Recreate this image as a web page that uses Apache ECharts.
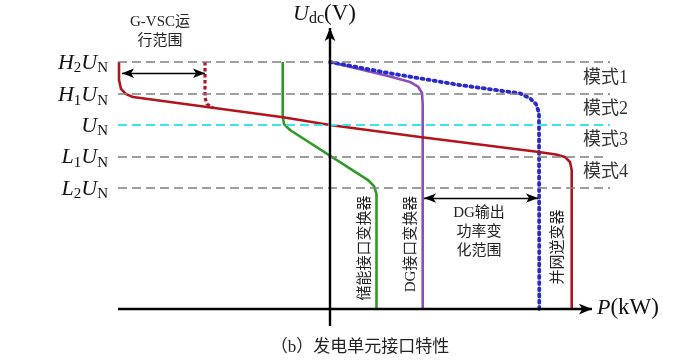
<!DOCTYPE html>
<html><head><meta charset="utf-8">
<script src="https://cdn.jsdelivr.net/npm/echarts@6/dist/echarts.min.js"></script>
<style>html,body{margin:0;padding:0;background:#fff}#c{width:693px;height:361px}</style>
</head><body><div id="c"></div>
<script>
// ---- data (P in schematic units, U normalised to UN = 1) ----
const levelNames = ['H2UN', 'H1UN', 'UN', 'L1UN', 'L2UN'];
const levelValues = [1.342, 1.168, 1.0, 0.830, 0.659];
const levelEnds = [28.0, 28.0, 28.0, 27.3, 28.0];
const modeLabels = ['模式1', '模式2', '模式3', '模式4'];

const gvscCurve = [[-21.1,1.342],[-21.1,1.245],[-20.9,1.196],[-20.4,1.168],[-19.7,1.152],[-4.7,1.042],[0,1.0],[9.0,0.935],[20.7,0.855],[22.6,0.840],[23.5,0.826],[24.0,0.799],[24.17,0.755],[24.17,0]];
const gvscLimit = [[-12.5,1.342],[-12.5,1.147],[-12.3,1.114],[-11.7,1.093]];
const storageCurve = [[-4.73,1.342],[-4.73,1.049],[-4.6,1.005],[-4.0,0.973],[3.8,0.701],[4.4,0.668],[4.65,0.625],[4.65,0]];
const dgCurve = [[0,1.342],[6.0,1.263],[8.0,1.234],[8.8,1.209],[9.2,1.174],[9.27,1.114],[9.27,0]];
const gridInvCurve = [[0,1.342],[6.0,1.281],[13.0,1.217],[19.0,1.172],[20.0,1.145],[20.6,1.114],[20.9,1.065],[20.93,0]];
const gvscRange = [-20.8, -12.5, 1.281];
const dgRange = [9.4, 20.8, 0.603];
const xRange = [-21.2, 28.2];
const yRange = [-0.092, 1.527];
const xAxisEnd = 26.2;

const chart = echarts.init(document.getElementById('c'), null, {renderer: 'canvas'});
const dashGrey = {color: '#7f7f7f', width: 1.6, type: [9, 5]};
const levelLines = levelValues.map((v, i) => [
  {coord: [xRange[0], v], lineStyle: i === 2 ? {color: '#3fe3ea', width: 2, type: [9, 5]} : dashGrey},
  {coord: [levelEnds[i], v]}
]);
const axisStyle = {color: '#000', width: 2.4, type: 'solid'};
const arrowStyle = {color: '#000', width: 1.3, type: 'solid'};

chart.setOption({
  animation: false,
  grid: {left: 118, right: 693 - 612, top: 28, bottom: 35},
  xAxis: {type: 'value', min: xRange[0], max: xRange[1], show: false},
  yAxis: {type: 'value', min: yRange[0], max: yRange[1], show: false},
  series: [
    {type: 'line', data: [], silent: true,
     markLine: {silent: true, symbol: 'none', label: {show: false}, animation: false, data: levelLines}},
    {type: 'line', data: [], silent: true,
     markLine: {silent: true, symbol: ['none', 'arrow'], symbolSize: [8, 13], label: {show: false}, animation: false,
       data: [
         [{coord: [xRange[0], 0], lineStyle: axisStyle}, {coord: [xAxisEnd, 0]}],
         [{coord: [0, yRange[0]], lineStyle: axisStyle}, {coord: [0, yRange[1]]}]
       ]}},
    {type: 'line', data: [], silent: true,
     markLine: {silent: true, symbol: ['arrow', 'arrow'], symbolSize: [7, 12], label: {show: false}, animation: false,
       data: [
         [{coord: [gvscRange[0], gvscRange[2]], lineStyle: arrowStyle}, {coord: [gvscRange[1], gvscRange[2]]}],
         [{coord: [dgRange[0], dgRange[2]], lineStyle: arrowStyle}, {coord: [dgRange[1], dgRange[2]]}]
       ]}},
    {type: 'line', data: storageCurve, showSymbol: false, symbol: 'none', lineStyle: {color: '#2f9a26', width: 2.6}},
    {type: 'line', data: dgCurve, showSymbol: false, symbol: 'none', lineStyle: {color: '#8a4cc0', width: 2.6}},
    {type: 'line', data: gridInvCurve, showSymbol: false, symbol: 'none', lineStyle: {color: '#2a2ac8', width: 3.8, type: [2, 4.2], cap: 'round'}},
    {type: 'line', data: gvscLimit, showSymbol: false, symbol: 'none', lineStyle: {color: '#b4131d', width: 3.2, type: [3.5, 2.5]}},
    {type: 'line', data: gvscCurve, showSymbol: false, symbol: 'none', lineStyle: {color: '#b4131d', width: 2.6}}
  ]
});

const serifCjk = '"Liberation Serif", "Noto Sans CJK SC", serif';
const subRich = {
  i: {fontFamily: '"Liberation Serif"', fontStyle: 'italic', fontSize: 22, lineHeight: 26, fill: '#111'},
  s: {fontFamily: '"Liberation Serif"', fontSize: 15, lineHeight: 15, padding: [11, 0, 0, 0], fill: '#111'},
  r: {fontFamily: '"Liberation Serif"', fontSize: 23, lineHeight: 26, fill: '#111'},
  d: {fontFamily: '"Liberation Serif"', fontSize: 16, lineHeight: 16, padding: [9, 0, 0, 0], fill: '#111'}
};
function richName(n) {
  const m = n.match(/^([HL])(\d)UN$/);
  if (m) return '{i|' + m[1] + '}{s|' + m[2] + '}{i|U}{s|N}';
  return '{i|U}{s|N}';
}
function txt(x, y, text, opt) {
  opt = opt || {};
  return {type: 'text', x: x, y: y, rotation: opt.rotation || 0, silent: true,
    style: Object.assign({text: text, fill: opt.fill || '#222', font: opt.font || ('15px ' + serifCjk),
      align: opt.align || 'center', verticalAlign: 'middle', textAlign: opt.align || 'center', textVerticalAlign: 'middle',
      lineHeight: opt.lineHeight}, opt.extra || {})};
}
const px = (x, y) => chart.convertToPixel({gridIndex: 0}, [x, y]);
const elems = [];
levelNames.forEach((n, i) => {
  const p = px(xRange[0], levelValues[i]);
  elems.push(txt(108, p[1] + 1, richName(n), {align: 'right', extra: {rich: subRich}}));
});
modeLabels.forEach((m, i) => {
  const p = px(0, (levelValues[i] + levelValues[i + 1]) / 2);
  elems.push(txt(583, p[1], m, {align: 'left', fill: '#333', font: '18px ' + serifCjk}));
});
elems.push(txt(293, 14, '{i|U}{d|dc}{r|(V)}', {align: 'left', extra: {rich: subRich}}));
elems.push(txt(597, 308, '{i|P}{r|(kW)}', {align: 'left', extra: {rich: subRich}}));
elems.push(txt(160, 32, 'G-VSC运\n行范围', {lineHeight: 19}));
elems.push(txt(479, 232, 'DG输出\n功率变\n化范围', {lineHeight: 19}));
elems.push(txt(365, 248, '储能接口变换器', {rotation: Math.PI / 2}));
elems.push(txt(411, 244, 'DG接口变换器', {rotation: Math.PI / 2}));
elems.push(txt(558, 247, '并网逆变器', {rotation: Math.PI / 2}));
elems.push(txt(360, 348, '（b）发电单元接口特性', {font: '17px ' + serifCjk, fill: '#222'}));
chart.setOption({graphic: {elements: elems}});
</script>
</body></html>
